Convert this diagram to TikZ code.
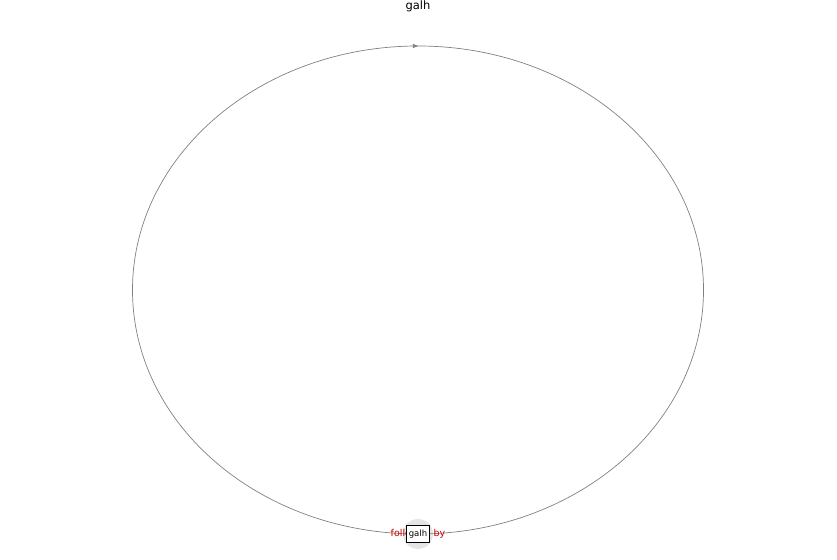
\documentclass[tikz,border=0pt]{standalone}
\usepackage{fontspec}
\setmainfont{DejaVu Sans}
\usetikzlibrary{arrows.meta,decorations.markings}
\tikzset{
  statebox/.style={draw=black, fill=white, inner sep=2.5pt, minimum height=17pt, font=\fontsize{8.5}{10}\selectfont},
  halo/.style={circle, fill=gray!20, minimum size=30pt, inner sep=0pt},
  loopedge/.style={draw=gray, line width=0.7pt, postaction={decorate},
    decoration={markings, mark=at position 0.5 with {\arrow{Triangle[length=5pt,width=4pt,fill=gray]}}}},
  edgelabel/.style={text=red!80!black, font=\fontsize{9.5}{11}\selectfont}
}
\begin{document}
\begin{tikzpicture}[x=1pt, y=1pt]
  \useasboundingbox (0,0) rectangle (837,559);
  \node (title) at (418,553) {\fontsize{11.5}{13}\selectfont galh};
  \node[halo] (glow) at (418,25) {};
  % self loop of galh
  \coordinate (start) at (418,25);
  \draw[loopedge] (start) arc[start angle=270, end angle=-90, x radius=285.5, y radius=244];
  \node[edgelabel] (lbl) at (418,25) {followed by};
  \node[statebox] (galh) at (418,25) {galh};
\end{tikzpicture}
\end{document}
